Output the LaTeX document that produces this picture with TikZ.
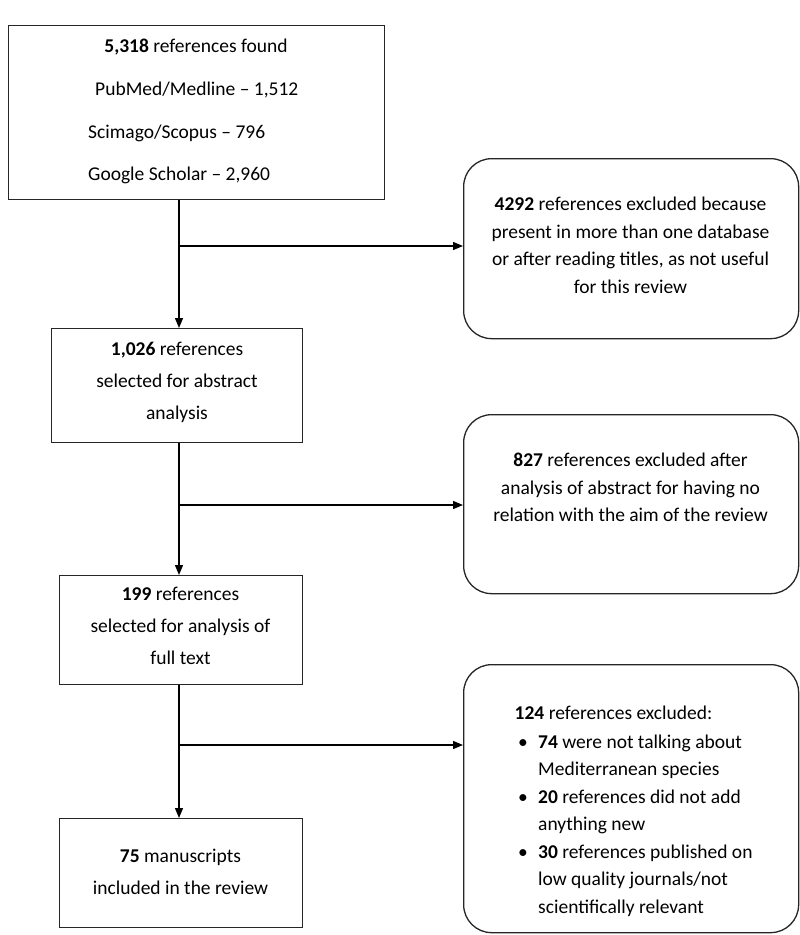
\documentclass[tikz,border=0pt]{standalone}
\usepackage{fontspec}
\setmainfont{Carlito}
\usetikzlibrary{arrows.meta,calc}
\begin{document}
\begin{tikzpicture}[x=1pt,y=-1pt,
 boxsq/.style={draw=black!85, line width=1.3pt, inner sep=0pt, anchor=north west},
 boxrd/.style={boxsq, rounded corners=28pt},
 ltxt/.style={font=\fontsize{19.5}{32}\selectfont, align=center, inner sep=0pt, anchor=north},
 rtxt/.style={font=\fontsize{19.5}{27.5}\selectfont, align=center, inner sep=0pt, anchor=north},
 btxt/.style={font=\fontsize{19.5}{27.5}\selectfont, inner sep=0pt},
 arr/.style={draw=black, line width=1.3pt, -{Triangle[length=10pt,width=8pt]}},
 ln/.style={draw=black, line width=1.3pt}]
\useasboundingbox[fill=white] (0,0) rectangle (800,935);

% left column boxes
\node[boxsq, minimum width=376pt, minimum height=174pt] (b1) at (8,25) {};
\node[boxsq, minimum width=251pt, minimum height=114pt] (b2) at (51,328) {};
\node[boxsq, minimum width=243pt, minimum height=109pt] (b3) at (59,575) {};
\node[boxsq, minimum width=243pt, minimum height=109pt] (b4) at (59,818) {};

% right column boxes
\node[boxrd, minimum width=335pt, minimum height=180pt] (e1) at (463,158) {};
\node[boxrd, minimum width=335pt, minimum height=179pt] (e2) at (463,414) {};
\node[boxrd, minimum width=335pt, minimum height=268pt] (e3) at (463,664) {};

% texts of box 1
\node[btxt, anchor=north] (b1a) at (196,39) {\textbf{5,318} references found};
\node[btxt, anchor=north west] (b1b) at (95,82) {PubMed/Medline – 1,512};
\node[btxt, anchor=north west] (b1c) at (88,125) {Scimago/Scopus – 796};
\node[btxt, anchor=north west] (b1d) at (88,167) {Google Scholar – 2,960};

% texts of other left boxes
\node[ltxt] (b2t) at (177,342) {\textbf{1,026} references\\selected for abstract\\analysis};
\node[ltxt] (b3t) at (180.5,587) {\textbf{199} references\\selected for analysis of\\full text};
\node[ltxt] (b4t) at (180.5,849) {\textbf{75} manuscripts\\included in the review};

% texts of right boxes
\node[rtxt] (e1t) at (630.5,197) {\textbf{4292} references excluded because\\present in more than one database\\or after reading titles, as not useful\\for this review};
\node[rtxt] (e2t) at (630.5,453) {\textbf{827} references excluded after\\analysis of abstract for having no\\relation with the aim of the review};
\node[rtxt] (e3t) at (613.5,706) {\textbf{124} references excluded:};
\node[btxt, anchor=north west] (e3l) at (518,729) {%
\begin{tabular}{@{}p{20pt}@{}l@{}}
\textbullet & \textbf{74} were not talking about\\
 & Mediterranean species\\
\textbullet & \textbf{20} references did not add\\
 & anything new\\
\textbullet & \textbf{30} references published on\\
 & low quality journals/not\\
 & scientifically relevant
\end{tabular}};

% connectors
\coordinate (j1) at (179,246);
\coordinate (j2) at (179,505);
\coordinate (j3) at (179,745);
\draw[arr] (b1.south -| j1) -- (b2.north -| j1);
\draw[arr] (j1) -- (e1.west |- j1);
\draw[arr] (b2.south -| j2) -- (b3.north -| j2);
\draw[arr] (j2) -- (e2.west |- j2);
\draw[arr] (b3.south -| j3) -- (b4.north -| j3);
\draw[arr] (j3) -- (e3.west |- j3);
\end{tikzpicture}
\end{document}
